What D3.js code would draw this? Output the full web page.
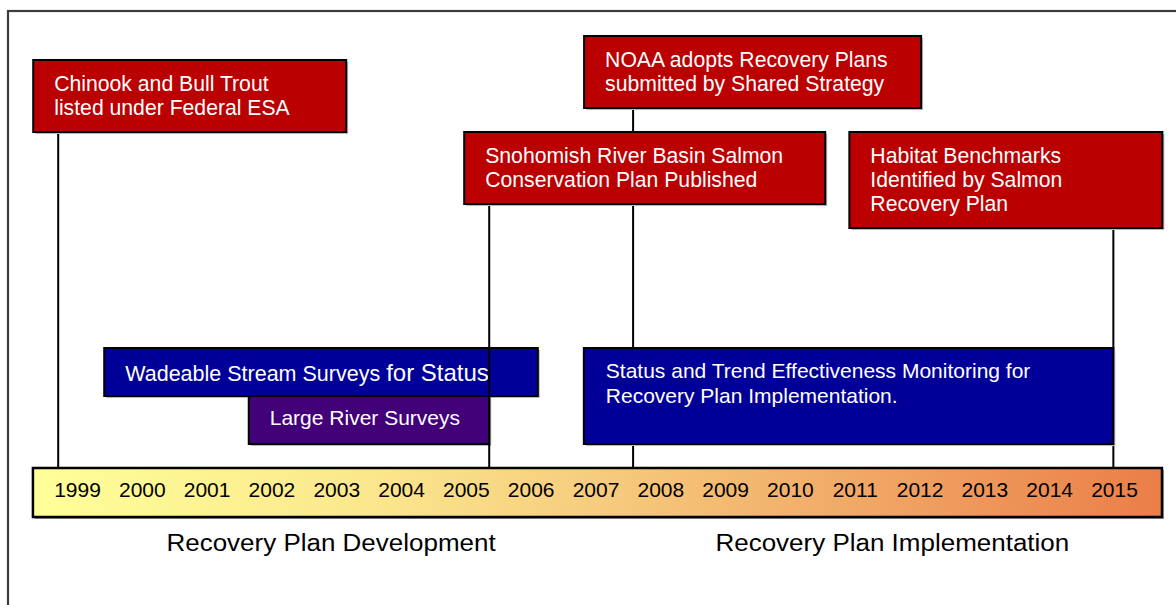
<!DOCTYPE html>
<html>
<head>
<meta charset="utf-8">
<script src="https://cdn.jsdelivr.net/npm/d3@7"></script>
<style>
  html, body { margin: 0; padding: 0; background: #fff; }
  svg { display: block; font-family: "Liberation Sans", Arial, sans-serif; }
</style>
</head>
<body>
<svg id="chart" width="1176" height="605"></svg>
<script>
// Year labels along the timeline
const tickYears = [1999, 2000, 2001, 2002, 2003, 2004, 2005, 2006, 2007,
                   2008, 2009, 2010, 2011, 2012, 2013, 2014, 2015];
// Full extent of the timeline bar (years)
const timelineExtent = [1998.32, 2015.74];

// Milestones (red call-out boxes) and the year each one points to
const eventLabels = [
  ["Chinook and Bull Trout", "listed under Federal ESA"],
  ["NOAA adopts Recovery Plans", "submitted by Shared Strategy"],
  ["Snohomish River Basin Salmon", "Conservation Plan Published"],
  ["Habitat Benchmarks", "Identified by Salmon", "Recovery Plan"]
];
const eventYears = [1998.71, 2007.58, 2005.36, 2014.99];

// Monitoring programmes (spans)
const spanLabels = [
  ["Wadeable Stream Surveys ", "for Status"],
  ["Large River Surveys"],
  ["Status and Trend Effectiveness Monitoring for", "Recovery Plan Implementation."]
];
const spanStart = [1999.42, 2001.65, 2006.82];
const spanEnd   = [2006.11, 2005.36, 2014.99];

// Phase captions below the timeline
const phaseLabels = ["Recovery Plan Development", "Recovery Plan Implementation"];
const phaseCenters = [2002.92, 2011.58];

// ---- layout & style ----
const layout = {
  timelineTop: 468, timelineHeight: 49,
  yearBaseline: 497,
  phaseBaseline: 551,
  // call-out boxes: left offset from the anchor line, width, top, height
  eventBoxes: [
    { dx: -25,  w: 313, top: 60,  h: 72 },
    { dx: -49,  w: 337, top: 36,  h: 72 },
    { dx: -25,  w: 361, top: 132, h: 72 },
    { dx: -264, w: 313, top: 132, h: 96 }
  ],
  spanRows: [
    { top: 348, h: 48, fill: "#000099", textDx: 21, baseline: 381, split: true },
    { top: 396, h: 48, fill: "#420079", textDx: 21, baseline: 425 },
    { top: 348, h: 96, fill: "#000099", textDx: 22, baseline: 378 }
  ],
  red: "#BA0000",
  textPad: 21, firstLine: 31, lineGap: 24
};

const svg = d3.select("#chart");
const x = d3.scaleLinear().domain([1999, 2015]).range([77, 1114]);

// outer frame
svg.append("rect")
  .attr("x", 8).attr("y", 11).attr("width", 1300).attr("height", 700)
  .attr("fill", "none").attr("stroke", "#3c3c3c").attr("stroke-width", 2.2);

// gradient for the timeline bar
const defs = svg.append("defs");
const grad = defs.append("linearGradient").attr("id", "tl").attr("x1", "0%").attr("x2", "100%");
grad.append("stop").attr("offset", "0%").attr("stop-color", "#FFFF99");
grad.append("stop").attr("offset", "30%").attr("stop-color", "#FBE78D");
grad.append("stop").attr("offset", "50%").attr("stop-color", "#F6CC7E");
grad.append("stop").attr("offset", "75%").attr("stop-color", "#F0A564");
grad.append("stop").attr("offset", "100%").attr("stop-color", "#EB7E48");

function shadowRect(g, x0, y0, w, h, fill, sw) {
  g.append("rect").attr("x", x0 + 2).attr("y", y0 + 2).attr("width", w).attr("height", h)
    .attr("fill", "#b8b8b8");
  g.append("rect").attr("x", x0).attr("y", y0).attr("width", w).attr("height", h)
    .attr("fill", fill).attr("stroke", "#000").attr("stroke-width", sw || 2);
}

// first two spans sit below the connector lines
const spanG1 = svg.append("g");
[0, 1].forEach(i => {
  const r = layout.spanRows[i];
  const x0 = x(spanStart[i]), x1 = x(spanEnd[i]);
  shadowRect(spanG1, x0, r.top, x1 - x0, r.h, r.fill);
  const t = spanG1.append("text").attr("x", x0 + r.textDx).attr("y", r.baseline)
    .attr("fill", "#fff").attr("font-size", 21);
  if (r.split) {
    t.attr("font-size", 21.5);
    t.append("tspan").text(spanLabels[i][0]);
    t.append("tspan").attr("font-size", 24).text(spanLabels[i][1]);
  } else {
    t.text(spanLabels[i][0]);
  }
});

// connector lines from each milestone box down to the timeline
svg.append("g").selectAll("line")
  .data(eventYears)
  .join("line")
  .attr("x1", d => x(d)).attr("x2", d => x(d))
  .attr("y1", (d, i) => layout.eventBoxes[i].top + layout.eventBoxes[i].h)
  .attr("y2", layout.timelineTop)
  .attr("stroke", "#000").attr("stroke-width", 2);

// large monitoring span
const spanG2 = svg.append("g");
{
  const i = 2, r = layout.spanRows[i];
  const x0 = x(spanStart[i]), x1 = x(spanEnd[i]);
  shadowRect(spanG2, x0, r.top, x1 - x0, r.h, r.fill);
  spanLabels[i].forEach((line, k) => {
    spanG2.append("text").attr("x", x0 + r.textDx).attr("y", r.baseline + k * 25)
      .attr("fill", "#fff").attr("font-size", 21).text(line);
  });
}

// milestone boxes
const evG = svg.append("g");
eventYears.forEach((yr, i) => {
  const b = layout.eventBoxes[i];
  const x0 = x(yr) + b.dx;
  shadowRect(evG, x0, b.top, b.w, b.h, layout.red);
  eventLabels[i].forEach((line, k) => {
    evG.append("text")
      .attr("x", x0 + layout.textPad)
      .attr("y", b.top + layout.firstLine + k * layout.lineGap)
      .attr("fill", "#fff").attr("font-size", 21.2).text(line);
  });
});

// timeline bar
const tlG = svg.append("g");
const tx0 = x(timelineExtent[0]), tx1 = x(timelineExtent[1]);
tlG.append("rect").attr("x", tx0 + 2).attr("y", layout.timelineTop + 2)
  .attr("width", tx1 - tx0).attr("height", layout.timelineHeight).attr("fill", "#9a9a9a");
tlG.append("rect").attr("x", tx0).attr("y", layout.timelineTop)
  .attr("width", tx1 - tx0).attr("height", layout.timelineHeight)
  .attr("fill", "url(#tl)").attr("stroke", "#000").attr("stroke-width", 2.5);

// year labels via a bottom axis with no lines
const axis = d3.axisBottom(x).tickValues(tickYears).tickFormat(d3.format("d")).tickSize(0);
const axG = tlG.append("g").attr("transform", `translate(0,${layout.yearBaseline - 15})`).call(axis);
axG.select(".domain").remove();
axG.selectAll("text")
  .attr("font-family", "'Liberation Sans', Arial, sans-serif")
  .attr("font-size", 21).attr("fill", "#000")
  .attr("dy", 0).attr("y", 15);

// phase captions (slightly wide lettering)
svg.append("g").selectAll("text")
  .data(phaseLabels)
  .join("text")
  .attr("transform", (d, i) => `translate(${x(phaseCenters[i])},${layout.phaseBaseline}) scale(1.13,1)`)
  .attr("text-anchor", "middle")
  .attr("font-size", 23).attr("fill", "#000")
  .text(d => d);
</script>
</body>
</html>
